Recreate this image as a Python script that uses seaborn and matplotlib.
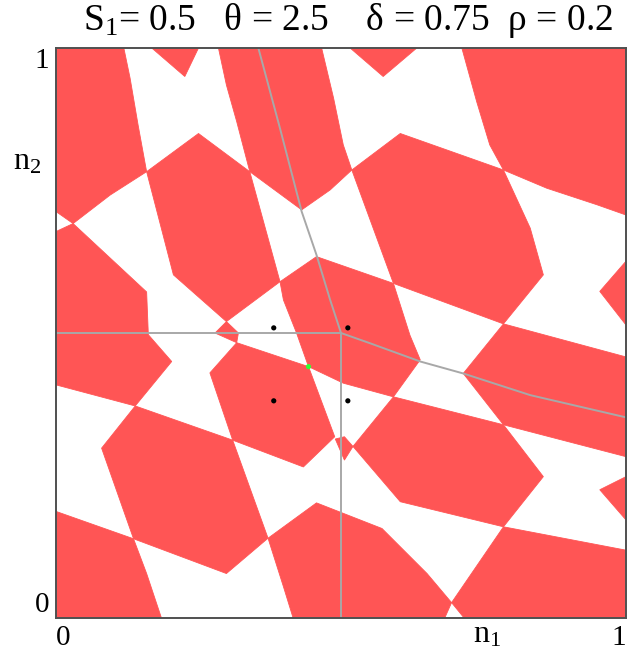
import matplotlib
matplotlib.use('Agg')
import matplotlib.pyplot as plt
import seaborn as sns
import pandas as pd

# red basin pieces, vertices given as (n1, n2)
region_a = [(0, 1), (0.119, 1), (0.130, 0.947), (0.144, 0.865), (0.159, 0.783),
            (0.095, 0.742), (0.030, 0.692), (0, 0.713)]
region_b = [(0.168, 1), (0.250, 1), (0.226, 0.950)]
region_c = [(0.285, 1), (0.466, 1), (0.487, 0.912), (0.504, 0.830), (0.519, 0.786),
            (0.481, 0.751), (0.431, 0.716), (0.340, 0.783), (0.317, 0.871), (0.299, 0.935)]
region_d = [(0.516, 1), (0.633, 1), (0.574, 0.950)]
region_e = [(0.712, 1), (1, 1), (1, 0.707), (0.949, 0.725), (0.861, 0.754),
            (0.785, 0.786), (0.761, 0.830), (0.738, 0.906)]
region_f = [(0.159, 0.783), (0.250, 0.850), (0.340, 0.783), (0.393, 0.590),
            (0.299, 0.520), (0.206, 0.602)]
region_g = [(0.443, 0.441), (0.422, 0.500), (0.399, 0.558), (0.393, 0.590), (0.457, 0.634),
            (0.592, 0.587), (0.621, 0.496), (0.639, 0.453), (0.592, 0.388), (0.504, 0.412)]
region_h = [(0.519, 0.786), (0.604, 0.850), (0.785, 0.786), (0.832, 0.684),
            (0.855, 0.602), (0.785, 0.516), (0.592, 0.587)]
region_i = [(0.317, 0.483), (0.443, 0.441), (0.489, 0.318), (0.434, 0.265),
            (0.310, 0.312), (0.270, 0.430)]
region_j1 = [(1, 0.626), (0.954, 0.573), (1, 0.514)]
region_j2 = [(1, 0.248), (0.954, 0.225), (1, 0.172)]
region_k = [(0.785, 0.516), (1, 0.458), (1, 0.283), (0.785, 0.339), (0.7145, 0.429)]
region_l = [(0.592, 0.388), (0.785, 0.339), (0.855, 0.248), (0.785, 0.160),
            (0.604, 0.204), (0.521, 0.301)]
region_n = [(0.490, 0.314), (0.506, 0.318), (0.521, 0.301), (0.506, 0.277)]
region_p = [(0.299, 0.520), (0.320, 0.500), (0.317, 0.483), (0.279, 0.500)]
region_r = [(0, 0.678), (0.030, 0.692), (0.159, 0.572), (0.162, 0.497), (0.203, 0.450),
            (0.139, 0.372), (0, 0.409)]
region_s = [(0, 0.187), (0.136, 0.139), (0.159, 0.078), (0.185, 0), (0, 0)]
region_t = [(0.139, 0.372), (0.310, 0.312), (0.372, 0.140), (0.299, 0.078),
            (0.136, 0.139), (0.080, 0.298)]
region_u = [(0.372, 0.140), (0.457, 0.202), (0.572, 0.157), (0.651, 0.078),
            (0.694, 0.027), (0.682, 0), (0.416, 0), (0.399, 0.055)]
region_v = [(0.694, 0.027), (0.785, 0.160), (1, 0.119), (1, 0), (0.716, 0)]

# separatrix (gray) lines
left_line_x = [0, 0.5]
left_line_y = [0.5, 0.5]
bottom_line_x = [0.5, 0.5]
bottom_line_y = [0, 0.5]
upper_curve_x = [0.355, 0.393, 0.431, 0.457, 0.481, 0.5]
upper_curve_y = [1.0, 0.859, 0.713, 0.637, 0.558, 0.5]
right_curve_x = [0.5, 0.551, 0.639, 0.7145, 0.832, 1.0]
right_curve_y = [0.5, 0.482, 0.450, 0.429, 0.391, 0.352]

# fixed points
black_x = [0.382, 0.512, 0.382, 0.512]
black_y = [0.509, 0.509, 0.381, 0.381]
green_x = [0.443]
green_y = [0.441]

basins = [region_a, region_b, region_c, region_d, region_e, region_f, region_g,
          region_h, region_i, region_j1, region_j2, region_k, region_l, region_n,
          region_p, region_r, region_s, region_t, region_u, region_v]

sns.set_theme(style='white')
plt.rcParams['font.family'] = ['Liberation Serif', 'DejaVu Serif']
plt.rcParams['mathtext.fontset'] = 'custom'
plt.rcParams['mathtext.rm'] = 'Liberation Serif'
plt.rcParams['mathtext.it'] = 'Liberation Serif'
plt.rcParams['text.color'] = 'black'
plt.rcParams['xtick.color'] = 'black'
plt.rcParams['ytick.color'] = 'black'

fig = plt.figure(figsize=(6.35, 6.58), dpi=100)
ax = fig.add_axes([56 / 635, 40 / 658, 570 / 635, 570 / 658])

red = '#ff5555'
for poly in basins:
    xs, ys = zip(*poly)
    ax.fill(xs, ys, color=red, lw=0.6, ec=red)

gray = '#a8a8a8'
for lx, ly in [(left_line_x, left_line_y), (bottom_line_x, bottom_line_y),
               (upper_curve_x, upper_curve_y), (right_curve_x, right_curve_y)]:
    sns.lineplot(x=lx, y=ly, sort=False, estimator=None, color=gray, lw=1.4, ax=ax)

sns.scatterplot(x=black_x, y=black_y, color='black', s=14, edgecolor='none', ax=ax, zorder=5)
sns.scatterplot(x=green_x, y=green_y, color='#33ff33', s=14, edgecolor='none', ax=ax, zorder=5)

ax.set_xlim(0, 1)
ax.set_ylim(0, 1)
ax.set_xticks([0, 1])
ax.set_yticks([0, 1])
ax.set_xticklabels(['0', '1'], fontsize=21)
ax.set_yticklabels(['0', '1'], fontsize=21)
ax.get_xticklabels()[0].set_ha('left')
ax.get_xticklabels()[1].set_ha('right')
ax.get_yticklabels()[0].set_va('bottom')
ax.get_yticklabels()[1].set_va('top')
ax.tick_params(length=0, pad=5)
ax.tick_params(axis='x', pad=5)
for sp in ax.spines.values():
    sp.set_visible(True)
    sp.set_color('#505050')
    sp.set_linewidth(1.4)

ax.text(-0.05, 0.80, r'$\mathrm{n}_2$', transform=ax.transAxes, fontsize=23,
        ha='center', va='center')
ax.text(0.756, -0.03, r'$\mathrm{n}_1$', transform=ax.transAxes, fontsize=23,
        ha='center', va='center')

fig.text(348 / 635, 1 - 21 / 658,
         r'$\mathrm{S}_1$= 0.5   θ = 2.5    δ = 0.75  ρ = 0.2',
         fontsize=27, ha='center', va='center')

fig.savefig('out.png', dpi=100)
